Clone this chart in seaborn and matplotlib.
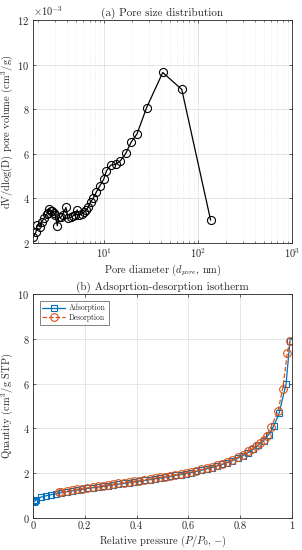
import matplotlib
matplotlib.use("Agg")
import matplotlib.pyplot as plt
import matplotlib.ticker as mticker
import numpy as np
import pandas as pd
import seaborn as sns

# ---- data: (a) pore size distribution ----
pore_diameter = [1.77, 1.88, 1.95, 2.08, 2.17, 2.30, 2.45, 2.55, 2.61, 2.70,
                 2.81, 2.93, 3.03, 3.18, 3.29, 3.45, 3.62, 3.93, 4.13, 4.40,
                 4.62, 4.89, 5.18, 5.44, 5.76, 6.10, 6.40, 6.77, 7.18, 7.65,
                 8.30, 9.00, 9.93, 10.6, 11.8, 13.3, 14.9, 17.0, 19.5, 22.4,
                 28.4, 42.1, 67.1, 136.0]
pore_volume = [2.28, 2.48, 2.81, 2.73, 2.96, 3.11, 3.30, 3.36, 3.52, 3.43,
               3.43, 3.33, 3.24, 2.78, 3.15, 3.15, 3.26, 3.60, 3.11, 3.15,
               3.21, 3.26, 3.48, 3.26, 3.30, 3.38, 3.48, 3.60, 3.85, 4.00,
               4.30, 4.56, 4.87, 5.24, 5.50, 5.53, 5.69, 6.02, 6.54, 6.89,
               8.08, 9.65, 8.89, 3.03]  # x 1e-3 cm3/g

# ---- data: (b) isotherm ----
ads_p = [0.004, 0.008, 0.012, 0.03, 0.05, 0.07, 0.09, 0.11, 0.13, 0.15,
         0.17, 0.19, 0.21, 0.23, 0.25, 0.27, 0.29, 0.31, 0.33, 0.35,
         0.37, 0.39, 0.41, 0.43, 0.45, 0.47, 0.49, 0.51, 0.53, 0.55,
         0.57, 0.59, 0.61, 0.63, 0.65, 0.67, 0.69, 0.71, 0.73, 0.75,
         0.77, 0.79, 0.81, 0.83, 0.85, 0.87, 0.89, 0.91, 0.93, 0.95,
         0.977, 0.992]
ads_q = [0.72, 0.76, 0.80, 0.93, 0.99, 1.04, 1.09, 1.13, 1.17, 1.21,
         1.25, 1.28, 1.32, 1.35, 1.38, 1.41, 1.45, 1.48, 1.51, 1.54,
         1.58, 1.61, 1.64, 1.68, 1.71, 1.75, 1.78, 1.82, 1.86, 1.90,
         1.94, 1.98, 2.03, 2.08, 2.13, 2.19, 2.25, 2.32, 2.39, 2.47,
         2.56, 2.66, 2.78, 2.92, 3.08, 3.26, 3.45, 3.72, 4.12, 4.67,
         5.98, 7.91]
des_p = [0.992, 0.982, 0.964, 0.946, 0.919, 0.902, 0.89, 0.875, 0.86, 0.845,
         0.83, 0.81, 0.79, 0.77, 0.75, 0.73, 0.71, 0.69, 0.67, 0.65,
         0.63, 0.61, 0.59, 0.57, 0.55, 0.53, 0.51, 0.49, 0.47, 0.45,
         0.43, 0.41, 0.39, 0.37, 0.35, 0.33, 0.31, 0.29, 0.27, 0.25,
         0.23, 0.21, 0.19, 0.17, 0.15, 0.13, 0.11, 0.10]
des_q = [7.91, 7.38, 5.77, 4.78, 4.05, 3.68, 3.50, 3.35, 3.22, 3.10,
         2.97, 2.83, 2.71, 2.60, 2.51, 2.43, 2.36, 2.29, 2.23, 2.17,
         2.11, 2.06, 2.01, 1.97, 1.93, 1.89, 1.85, 1.81, 1.78, 1.74,
         1.71, 1.67, 1.64, 1.61, 1.57, 1.54, 1.51, 1.48, 1.44, 1.41,
         1.38, 1.35, 1.31, 1.28, 1.24, 1.20, 1.16, 1.14]

BLUE = "#0072BD"
ORANGE = "#D95319"

sns.set_theme(style="ticks")
plt.rcParams.update({
    "font.family": "serif",
    "font.serif": ["cmr10", "DejaVu Serif"],
    "mathtext.fontset": "cm",
    "axes.formatter.use_mathtext": True,
    "axes.unicode_minus": False,
    "font.size": 7.5,
    "axes.edgecolor": "#262626",
    "axes.linewidth": 0.6,
    "xtick.direction": "in",
    "ytick.direction": "in",
    "xtick.top": True,
    "ytick.right": True,
    "xtick.major.size": 2.5,
    "ytick.major.size": 2.5,
    "xtick.minor.size": 1.5,
    "xtick.major.width": 0.5,
    "ytick.major.width": 0.5,
    "xtick.minor.width": 0.4,
    "xtick.major.pad": 2.5,
    "ytick.major.pad": 2.5,
    "xtick.labelsize": 7.5,
    "ytick.labelsize": 7.5,
    "xtick.color": "#262626",
    "ytick.color": "#262626",
})

fig = plt.figure(figsize=(3.02, 5.50), dpi=100)
ax1 = fig.add_axes([0.109, 0.558, 0.858, 0.4055])
ax2 = fig.add_axes([0.109, 0.0582, 0.858, 0.4073])

# (a)
psd = pd.DataFrame({"d": pore_diameter, "v": np.array(pore_volume) * 1e-3})
sns.lineplot(data=psd, x="d", y="v", ax=ax1, color="black", lw=0.9,
             marker="o", markersize=5.8, markerfacecolor="none",
             markeredgecolor="black", markeredgewidth=0.8,
             estimator=None, sort=False)
ax1.set_xscale("log")
ax1.set_xlim(1.75, 1000)
ax1.set_ylim(2e-3, 12e-3)
ax1.set_yticks(np.arange(2, 13, 2) * 1e-3)
fmt = mticker.ScalarFormatter(useMathText=True)
fmt.set_powerlimits((-3, -3))
ax1.yaxis.set_major_formatter(fmt)
ax1.yaxis.get_offset_text().set_fontsize(7.5)
ax1.grid(True, which="major", color="#dcdcdc", lw=0.5)
ax1.grid(True, which="minor", axis="x", color="#dcdcdc", lw=0.4, ls=":")
ax1.set_title("(a) Pore size distribution", fontsize=8, pad=3)
ax1.set_xlabel("Pore diameter ($d_{pore}$, nm)", fontsize=7.5, labelpad=2)
ax1.set_ylabel("dV/dlog(D) pore volume (cm$^3$/g)", fontsize=7.5, labelpad=2)

# (b)
ads = pd.DataFrame({"p": ads_p, "q": ads_q})
des = pd.DataFrame({"p": des_p, "q": des_q})
sns.lineplot(data=ads, x="p", y="q", ax=ax2, color=BLUE, lw=0.9,
             marker="s", markersize=4.5, markerfacecolor="none",
             markeredgecolor=BLUE, markeredgewidth=0.8,
             estimator=None, sort=False, label="Adsorption")
sns.lineplot(data=des, x="p", y="q", ax=ax2, color=ORANGE, lw=0.9,
             linestyle="--", marker="o", markersize=5.5, markerfacecolor="none",
             markeredgecolor=ORANGE, markeredgewidth=0.8,
             estimator=None, sort=False, label="Desorption")
ax2.set_xlim(0, 1)
ax2.set_ylim(0, 10)
ax2.set_xticks([0, 0.2, 0.4, 0.6, 0.8, 1])
ax2.set_xticklabels(["0", "0.2", "0.4", "0.6", "0.8", "1"])
ax2.set_yticks([0, 2, 4, 6, 8, 10])
ax2.grid(True, color="#dcdcdc", lw=0.5)
ax2.set_title("(b) Adsoprtion-desorption isotherm", fontsize=8, pad=3)
ax2.set_xlabel("Relative pressure ($P/P_0$, $-$)", fontsize=7.5, labelpad=2)
ax2.set_ylabel("Quantity (cm$^3$/g STP)", fontsize=7.5, labelpad=2)
leg = ax2.legend(loc="upper left", bbox_to_anchor=(0.02, 0.975), fontsize=5.5,
                 frameon=True, fancybox=False, edgecolor="#262626",
                 handlelength=3, borderpad=0.35, labelspacing=0.2,
                 handletextpad=0.5, borderaxespad=0.2)
leg.get_frame().set_linewidth(0.5)

fig.savefig("out.png", dpi=100)
